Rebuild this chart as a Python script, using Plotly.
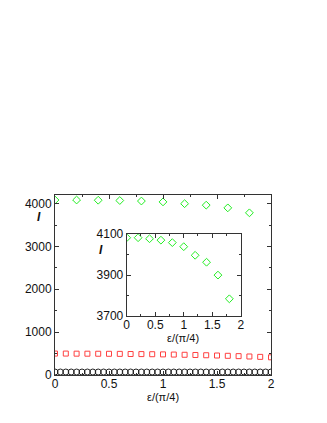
import plotly.graph_objects as go

# ---- data ----
eps_green = [0.0, 0.2, 0.4, 0.6, 0.8, 1.0, 1.2, 1.4, 1.6, 1.8]
I_green = [4083, 4083, 4078, 4071, 4059, 4039, 3997, 3963, 3900, 3784]

eps_red = [0.0, 0.1, 0.2, 0.3, 0.4, 0.5, 0.6, 0.7, 0.8, 0.9, 1.0,
           1.1, 1.2, 1.3, 1.4, 1.5, 1.6, 1.7, 1.8, 1.9, 2.0]
I_red = [500, 500, 498, 497, 496, 495, 493, 490, 488, 485, 481,
         477, 472, 467, 461, 455, 448, 440, 432, 423, 413]

eps_black = [i * 0.05 for i in range(41)]
I_black = [70] * 41

main_yticks = [0, 1000, 2000, 3000, 4000]
main_xticks = [0, 0.5, 1, 1.5, 2]
main_xticklabels = ["0", "0.5", "1", "1.5", "2"]
inset_yticks = [3700, 3900, 4100]
inset_xticks = [0, 0.5, 1, 1.5, 2]

GREEN = "#22ee22"
RED = "#ff4040"
BLACK = "#222222"
FONT = "Liberation Sans, Arial, sans-serif"

# page has an 8px body offset; plot area in screen pixels: x 55..271, y 195..375
L, R, T, B = 47, 64, 187, 56

fig = go.Figure()
fig.add_trace(go.Scatter(x=eps_black, y=I_black, mode="markers",
                         marker=dict(symbol="circle-open", size=6, color=BLACK, line=dict(width=1)),
                         xaxis="x", yaxis="y", showlegend=False))
fig.add_trace(go.Scatter(x=eps_red, y=I_red, mode="markers",
                         marker=dict(symbol="square-open", size=5, color=RED, line=dict(width=1)),
                         xaxis="x", yaxis="y", showlegend=False))
fig.add_trace(go.Scatter(x=eps_green, y=I_green, mode="markers",
                         marker=dict(symbol="diamond-open", size=6, color=GREEN, line=dict(width=1)),
                         xaxis="x", yaxis="y", showlegend=False))
fig.add_trace(go.Scatter(x=eps_green, y=I_green, mode="markers",
                         marker=dict(symbol="diamond-open", size=6, color=GREEN, line=dict(width=1)),
                         xaxis="x2", yaxis="y2", showlegend=False))

axis_common = dict(showline=True, linecolor="#333333", linewidth=1, mirror="ticks",
                   ticks="inside", ticklen=4, tickcolor="#333333", tickwidth=1,
                   showgrid=False, zeroline=False,
                   tickfont=dict(family=FONT, size=12, color="#111111"))

fig.update_layout(
    width=327, height=423,
    margin=dict(l=L, r=R, t=T, b=B),
    paper_bgcolor="white", plot_bgcolor="white",
    font=dict(family=FONT, color="#111111"),
    xaxis=dict(range=[0, 2], tickvals=main_xticks, ticktext=main_xticklabels,
               minor=dict(dtick=0.25, ticks="inside", ticklen=2, tickcolor="#333333"),
               ticklabelstandoff=-2,
               domain=[0, 1], anchor="y", **axis_common),
    yaxis=dict(range=[0, 4200], tickvals=main_yticks,
               minor=dict(dtick=500, ticks="inside", ticklen=2, tickcolor="#333333"),
               domain=[0, 1], anchor="x", **axis_common),
    xaxis2=dict(range=[0, 2], tickvals=inset_xticks, ticktext=["0", "0.5", "1", "1.5", "2"],
                minor=dict(dtick=0.25, ticks="inside", ticklen=2, tickcolor="#333333"),
                ticklabelstandoff=-2,
                domain=[0.332, 0.860], anchor="y2", **axis_common),
    yaxis2=dict(range=[3700, 4100], tickvals=inset_yticks,
                minor=dict(dtick=100, ticks="inside", ticklen=2, tickcolor="#333333"),
                domain=[0.328, 0.782], anchor="x2", **axis_common),
)

# place text using screen-pixel coordinates
def ann_px(px, py, text, size, italic=False):
    x = (px - 55) / (271 - 55)
    y = (375 - py) / (375 - 195)
    fig.add_annotation(x=x, y=y, xref="paper", yref="paper",
                       text=("<i><b>%s</b></i>" % text) if italic else text,
                       showarrow=False, xanchor="center", yanchor="middle",
                       font=dict(family=FONT, size=size, color="#111111"))

ann_px(39, 217, "I", 12, italic=True)
ann_px(163, 397, "ε/(π/4)", 11)
ann_px(101, 250, "I", 12, italic=True)
ann_px(183, 338, "ε/(π/4)", 11)

fig.write_html("out.html")
